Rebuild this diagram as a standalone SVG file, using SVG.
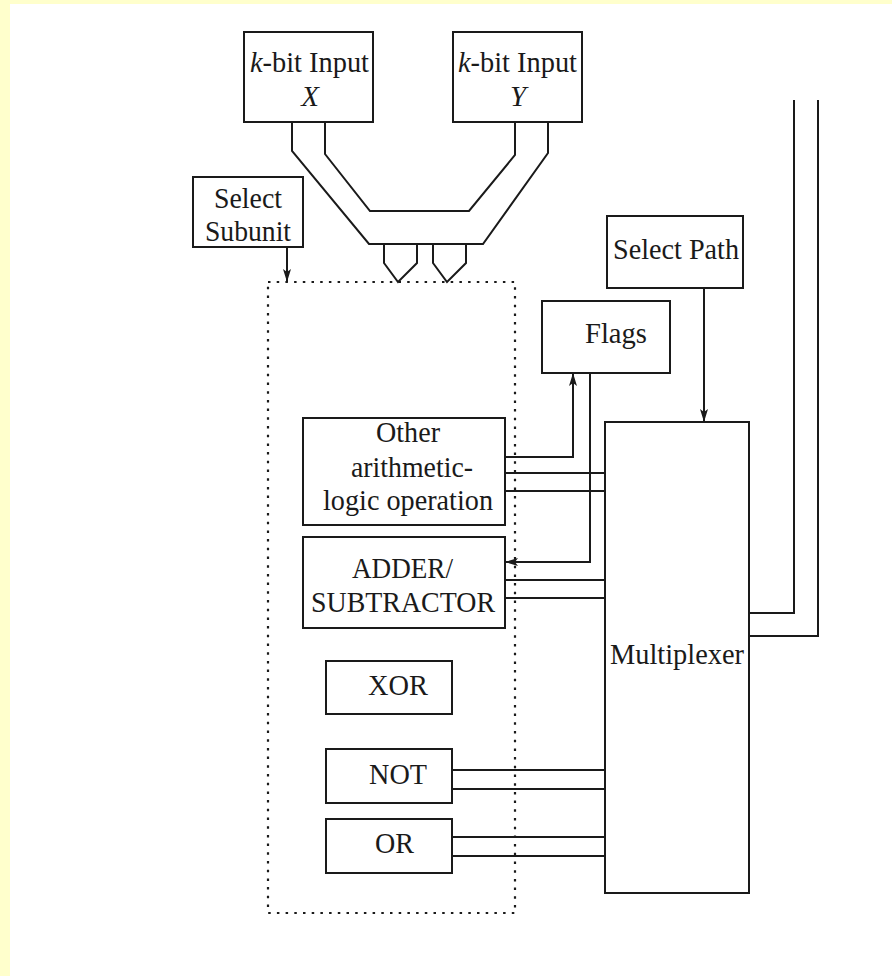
<svg xmlns="http://www.w3.org/2000/svg" width="892" height="976" viewBox="0 0 892 976">
<defs>
<style>
.bx{fill:none;stroke:#1a1a1a;stroke-width:2}
.ln{fill:none;stroke:#1a1a1a;stroke-width:2}
.dot{fill:none;stroke:#1a1a1a;stroke-width:2.2;stroke-dasharray:2.5 6.2}
text{font-family:"Liberation Serif","Times New Roman",serif;font-size:29px;fill:#1a1a1a}
.it{font-style:italic}
</style>
<marker id="ah" markerUnits="userSpaceOnUse" markerWidth="14" markerHeight="10" refX="13" refY="4" orient="auto">
<path d="M0,0 L13,4 L0,8 L3,4 z" fill="#1a1a1a"/>
</marker>
</defs>
<rect x="0" y="0" width="892" height="976" fill="#ffffff"/>
<rect x="0" y="0" width="892" height="4" fill="#ffffcc"/>
<rect x="0" y="0" width="10" height="976" fill="#ffffcc"/>

<g id="inputX">
<rect class="bx" x="244" y="32" width="129" height="90"/>
<text x="250" y="72" textLength="119" lengthAdjust="spacingAndGlyphs"><tspan class="it">k</tspan>-bit Input</text>
<text class="it" x="310" y="106" text-anchor="middle">X</text>
</g>
<g id="inputY">
<rect class="bx" x="453" y="32" width="129" height="90"/>
<text x="458" y="72" textLength="119" lengthAdjust="spacingAndGlyphs"><tspan class="it">k</tspan>-bit Input</text>
<text class="it" x="518" y="106" text-anchor="middle">Y</text>
</g>
<g id="selectSubunit">
<rect class="bx" x="193" y="177" width="110" height="70"/>
<text x="214" y="208" textLength="68" lengthAdjust="spacingAndGlyphs">Select</text>
<text x="205" y="241" textLength="86" lengthAdjust="spacingAndGlyphs">Subunit</text>
</g>
<g id="selectPath">
<rect class="bx" x="607" y="216" width="136" height="72"/>
<text x="613" y="259" textLength="126" lengthAdjust="spacingAndGlyphs">Select Path</text>
</g>
<g id="flags">
<rect class="bx" x="542" y="301" width="128" height="72"/>
<text x="585" y="343" textLength="62" lengthAdjust="spacingAndGlyphs">Flags</text>
</g>
<g id="subunits">
<rect class="dot" x="268" y="282" width="247" height="631"/>
</g>
<g id="other">
<rect class="bx" x="303" y="418" width="202" height="107"/>
<text x="376" y="442" textLength="64" lengthAdjust="spacingAndGlyphs">Other</text>
<text x="351" y="477" textLength="122" lengthAdjust="spacingAndGlyphs">arithmetic-</text>
<text x="323" y="510" textLength="170" lengthAdjust="spacingAndGlyphs">logic operation</text>
</g>
<g id="adder">
<rect class="bx" x="303" y="537" width="202" height="91"/>
<text x="352" y="578" textLength="101" lengthAdjust="spacingAndGlyphs">ADDER/</text>
<text x="311" y="612" textLength="184" lengthAdjust="spacingAndGlyphs">SUBTRACTOR</text>
</g>
<g id="xor">
<rect class="bx" x="326" y="661" width="126" height="53"/>
<text x="368" y="695" textLength="60" lengthAdjust="spacingAndGlyphs">XOR</text>
</g>
<g id="not">
<rect class="bx" x="326" y="749" width="126" height="54"/>
<text x="369" y="784" textLength="58" lengthAdjust="spacingAndGlyphs">NOT</text>
</g>
<g id="or">
<rect class="bx" x="326" y="819" width="126" height="54"/>
<text x="375" y="853" textLength="39" lengthAdjust="spacingAndGlyphs">OR</text>
</g>
<g id="multiplexer">
<rect class="bx" x="605" y="422" width="144" height="471"/>
<text x="610" y="664" textLength="134" lengthAdjust="spacingAndGlyphs">Multiplexer</text>
</g>

<g id="connectors">
<path class="ln" d="M292,122 V151 L369,244 H483 L548,153 V122"/>
<path class="ln" d="M325,122 V154 L370,211 H469 L515,155 V122"/>
<path class="ln" d="M384,244 V263 L398,282 L417,263 V244"/>
<path class="ln" d="M433,244 V263 L447,282 L466,263 V244"/>
<path class="ln" d="M287,247 V282" marker-end="url(#ah)"/>
<path class="ln" d="M704,288 V422" marker-end="url(#ah)"/>
<path class="ln" d="M505,457 H573 V373" marker-end="url(#ah)"/>
<path class="ln" d="M590,373 V562 H505" marker-end="url(#ah)"/>
<path class="ln" d="M505,473 H605 M505,491 H605"/>
<path class="ln" d="M505,580 H605 M505,598 H605"/>
<path class="ln" d="M452,770 H605 M452,789 H605"/>
<path class="ln" d="M452,837 H605 M452,856 H605"/>
<path class="ln" d="M749,613 H794 V100"/>
<path class="ln" d="M749,636 H818 V100"/>
</g>
</svg>
